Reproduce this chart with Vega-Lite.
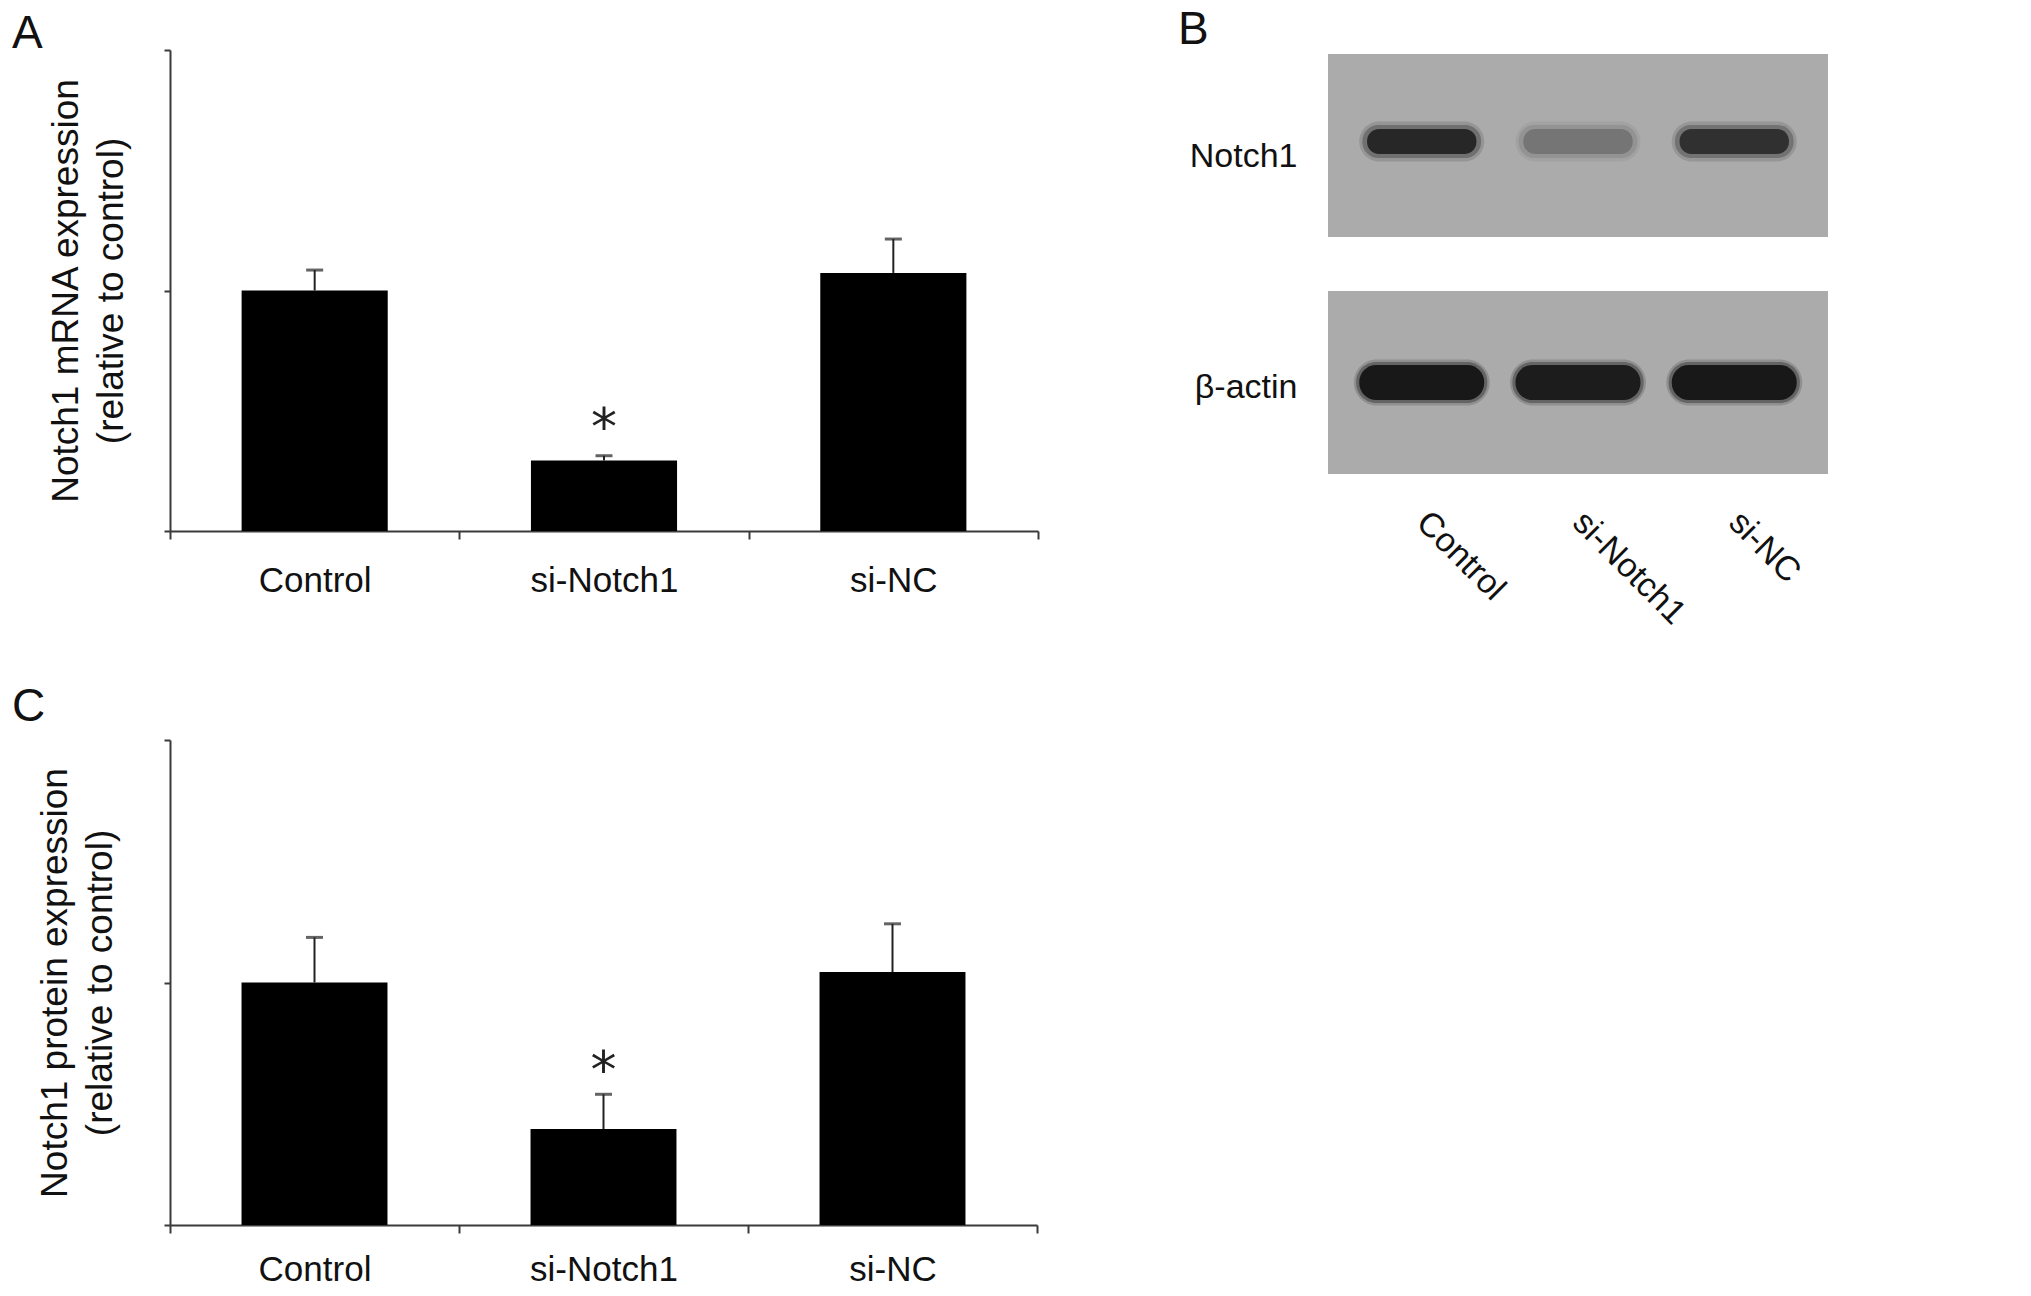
{
  "$schema": "https://vega.github.io/schema/vega-lite/v6.json",
  "padding": {"left": 12, "top": 7, "right": 5, "bottom": 0},
  "background": "white",
  "config": {
    "view": {"stroke": null},
    "font": "Liberation Sans",
    "axis": {
      "domainColor": "#3a3a3a", "domainWidth": 2,
      "tickColor": "#3a3a3a", "tickWidth": 2,
      "labelColor": "#111111", "titleColor": "#111111",
      "labelFont": "Liberation Sans", "titleFont": "Liberation Sans",
      "titleFontWeight": "normal", "titleFontSize": 37, "titleLineHeight": 45,
      "grid": false
    },
    "title": {"font": "Liberation Sans", "fontWeight": "normal", "fontSize": 46, "color": "#111111", "anchor": "start", "frame": "group", "baseline": "alphabetic"}
  },
  "datasets": {
    "mrna": [
      {"group": "Control", "value": 1.0, "upper": 1.085, "sig": ""},
      {"group": "si-Notch1", "value": 0.293, "upper": 0.313, "sig": "*"},
      {"group": "si-NC", "value": 1.073, "upper": 1.214, "sig": ""}
    ],
    "protein": [
      {"group": "Control", "value": 1.0, "upper": 1.186, "sig": ""},
      {"group": "si-Notch1", "value": 0.396, "upper": 0.539, "sig": "*"},
      {"group": "si-NC", "value": 1.043, "upper": 1.242, "sig": ""}
    ],
    "strips": [{"protein": "Notch1"}, {"protein": "β-actin"}],
    "blot": [
      {"lane": "Control", "protein": "Notch1", "intensity": 0.95},
      {"lane": "si-Notch1", "protein": "Notch1", "intensity": 0.36},
      {"lane": "si-NC", "protein": "Notch1", "intensity": 0.88},
      {"lane": "Control", "protein": "β-actin", "intensity": 1.0},
      {"lane": "si-Notch1", "protein": "β-actin", "intensity": 0.97},
      {"lane": "si-NC", "protein": "β-actin", "intensity": 1.0}
    ]
  },
  "columns": 2,
  "bounds": "flush",
  "align": "all",
  "spacing": {"row": 205, "column": 290},
  "concat": [
    {
      "width": 868, "height": 481,
      "title": {"text": "A", "dx": -158, "offset": -9},
      "data": {"name": "mrna"},
      "encoding": {
        "x": {"field": "group", "type": "nominal", "sort": ["Control", "si-Notch1", "si-NC"],
          "scale": {"paddingInner": 0, "paddingOuter": 0},
          "axis": {"title": null, "labelAngle": 0, "labelFontSize": 35, "labelPadding": 24, "tickBand": "extent", "tickSize": 8}}
      },
      "layer": [
        {"mark": {"type": "bar", "color": "#000000", "width": {"band": 0.505}},
         "encoding": {"y": {"field": "value", "type": "quantitative", "scale": {"domain": [0, 2], "nice": false},
           "axis": {"values": [0, 1, 2], "labels": false, "tickSize": 6, "title": ["Notch1 mRNA expression", "(relative to control)"], "titlePadding": 33}}}},
        {"mark": {"type": "rule", "color": "#222222", "strokeWidth": 2},
         "encoding": {"y": {"field": "value", "type": "quantitative"}, "y2": {"field": "upper"}}},
        {"mark": {"type": "tick", "color": "#222222", "thickness": 3, "size": 17},
         "encoding": {"y": {"field": "upper", "type": "quantitative"}}},
        {"mark": {"type": "text", "font": "DejaVu Sans", "fontSize": 52, "baseline": "middle", "dy": -27, "color": "#222222"},
         "encoding": {"y": {"field": "upper", "type": "quantitative"}, "text": {"field": "sig"}}}
      ]
    },
    {
      "width": 500, "height": 424,
      "title": {"text": "B", "dx": -150, "offset": -4},
      "encoding": {
        "y": {"field": "protein", "type": "nominal",
          "scale": {"domain": ["Notch1", "β-actin"], "paddingInner": 0.228, "paddingOuter": 0.0084, "align": 1},
          "axis": {"title": null, "domain": false, "ticks": false, "tickSize": 0, "labelFontSize": 34, "labelPadding": 31,
            "labelOffset": {"condition": {"test": "datum.value === 'Notch1'", "value": 12}, "value": 5}}}
      },
      "layer": [
        {"data": {"name": "strips"},
         "mark": {"type": "rect", "color": "#ababab"},
         "encoding": {"x": {"value": 0}, "x2": {"value": "width"}}},
        {"data": {"name": "blot"},
         "transform": [{"filter": "datum.protein === 'Notch1'"}],
         "mark": {"type": "rect", "height": 40, "width": {"band": 0.8}, "cornerRadius": 20, "opacity": 0.15, "yOffset": -4},
         "encoding": {
           "x": {"field": "lane", "type": "nominal", "sort": ["Control", "si-Notch1", "si-NC"],
             "scale": {"paddingInner": 0, "paddingOuter": 0.1},
             "axis": {"title": null, "orient": "bottom", "domain": false, "ticks": false, "tickSize": 0, "labelAngle": 45, "labelAlign": "left", "labelBaseline": "middle", "labelPadding": 43, "labelFontSize": 34}},
           "color": {"field": "intensity", "type": "quantitative", "scale": {"domain": [0, 1], "range": ["#ababab", "#141414"]}, "legend": null}}},
        {"data": {"name": "blot"},
         "transform": [{"filter": "datum.protein === 'Notch1'"}],
         "mark": {"type": "rect", "height": 33, "width": {"band": 0.76}, "cornerRadius": 16, "opacity": 0.3, "yOffset": -4},
         "encoding": {
           "x": {"field": "lane", "type": "nominal", "sort": ["Control", "si-Notch1", "si-NC"]},
           "color": {"field": "intensity", "type": "quantitative", "legend": null}}},
        {"data": {"name": "blot"},
         "transform": [{"filter": "datum.protein === 'Notch1'"}],
         "mark": {"type": "rect", "height": 25, "width": {"band": 0.7}, "cornerRadius": 12, "opacity": 0.85, "yOffset": -4},
         "encoding": {
           "x": {"field": "lane", "type": "nominal", "sort": ["Control", "si-Notch1", "si-NC"]},
           "color": {"field": "intensity", "type": "quantitative", "legend": null}}},
        {"data": {"name": "blot"},
         "transform": [{"filter": "datum.protein === 'β-actin'"}],
         "mark": {"type": "rect", "height": 46, "width": {"band": 0.87}, "cornerRadius": 23, "opacity": 0.18},
         "encoding": {
           "x": {"field": "lane", "type": "nominal", "sort": ["Control", "si-Notch1", "si-NC"]},
           "color": {"field": "intensity", "type": "quantitative", "legend": null}}},
        {"data": {"name": "blot"},
         "transform": [{"filter": "datum.protein === 'β-actin'"}],
         "mark": {"type": "rect", "height": 41, "width": {"band": 0.84}, "cornerRadius": 20, "opacity": 0.35},
         "encoding": {
           "x": {"field": "lane", "type": "nominal", "sort": ["Control", "si-Notch1", "si-NC"]},
           "color": {"field": "intensity", "type": "quantitative", "legend": null}}},
        {"data": {"name": "blot"},
         "transform": [{"filter": "datum.protein === 'β-actin'"}],
         "mark": {"type": "rect", "height": 35, "width": {"band": 0.8}, "cornerRadius": 17, "opacity": 0.95},
         "encoding": {
           "x": {"field": "lane", "type": "nominal", "sort": ["Control", "si-Notch1", "si-NC"]},
           "color": {"field": "intensity", "type": "quantitative", "legend": null}}}
      ]
    },
    {
      "width": 867, "height": 485,
      "title": {"text": "C", "dx": -158, "offset": 8},
      "data": {"name": "protein"},
      "encoding": {
        "x": {"field": "group", "type": "nominal", "sort": ["Control", "si-Notch1", "si-NC"],
          "scale": {"paddingInner": 0, "paddingOuter": 0},
          "axis": {"title": null, "labelAngle": 0, "labelFontSize": 35, "labelPadding": 19, "tickBand": "extent", "tickSize": 8}}
      },
      "layer": [
        {"mark": {"type": "bar", "color": "#000000", "width": {"band": 0.505}},
         "encoding": {"y": {"field": "value", "type": "quantitative", "scale": {"domain": [0, 2], "nice": false},
           "axis": {"values": [0, 1, 2], "labels": false, "tickSize": 6, "title": ["Notch1 protein expression", "(relative to control)"], "titlePadding": 44}}}},
        {"mark": {"type": "rule", "color": "#222222", "strokeWidth": 2},
         "encoding": {"y": {"field": "value", "type": "quantitative"}, "y2": {"field": "upper"}}},
        {"mark": {"type": "tick", "color": "#222222", "thickness": 3, "size": 17},
         "encoding": {"y": {"field": "upper", "type": "quantitative"}}},
        {"mark": {"type": "text", "font": "DejaVu Sans", "fontSize": 52, "baseline": "middle", "dy": -22, "color": "#222222"},
         "encoding": {"y": {"field": "upper", "type": "quantitative"}, "text": {"field": "sig"}}}
      ]
    }
  ]
}
